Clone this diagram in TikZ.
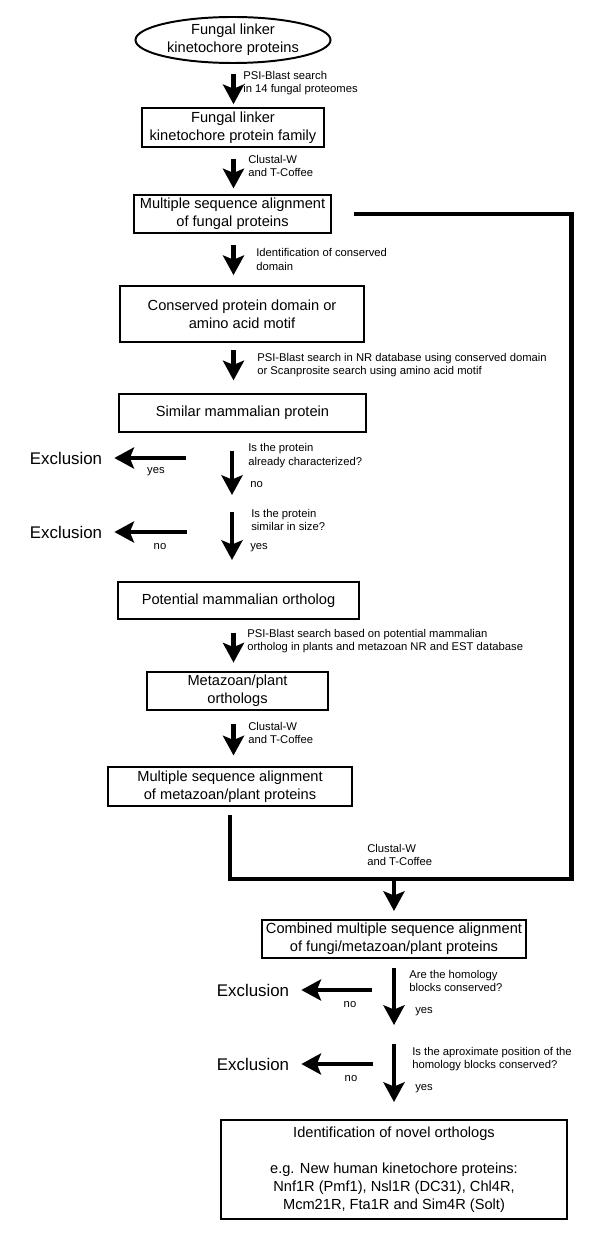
\documentclass[tikz,border=0pt]{standalone}
\usepackage{fontspec}
\setmainfont{Liberation Sans}
\usetikzlibrary{shapes,arrows.meta,calc,positioning}
\tikzset{
    -{Stealth[length=14pt,width=15pt,inset=3pt]},
    flow/.style={line width=3.1pt},
    pipe/.style={-,line width=3.4pt},
    box/.style={rectangle, draw, line width=1.4pt, inner sep=1pt, align=center,
        font=\fontsize{10.4}{12.8}\selectfont},
    oval/.style={ellipse, draw, line width=1.4pt, inner sep=0pt, align=center,
        font=\fontsize{10.4}{12.8}\selectfont},
    lbl/.style={anchor=west, inner sep=0pt, align=left, font=\fontsize{8}{9.6}\selectfont},
    ans/.style={inner sep=0pt, font=\fontsize{8}{9.6}\selectfont},
    excl/.style={inner sep=0pt, font=\fontsize{12}{14}\selectfont}
}

\begin{document}
\begin{tikzpicture}[x=0.025cm,y=-0.025cm]
    \useasboundingbox (0,0) rectangle (600,1240);
    \coordinate (c) at (233.5,0);

    % main column
    \node[oval, minimum width=4.875cm, minimum height=1.15cm] (1) at (233,40) {Fungal linker\\kinetochore proteins};
    \node[box, minimum width=4.55cm, minimum height=0.975cm] (2) at (233,127.5) {Fungal linker\\kinetochore protein family};
    \node[box, minimum width=4.925cm, minimum height=0.95cm] (3) at (232.5,214) {Multiple sequence alignment\\of fungal proteins};
    \node[box, minimum width=6.1cm, minimum height=1.4cm] (4) at (242,314) {Conserved protein domain or\\amino acid motif};
    \node[box, minimum width=6.15cm, minimum height=0.95cm] (5) at (242.5,413) {Similar mammalian protein};
    \node[box, minimum width=6.025cm, minimum height=0.925cm] (6) at (238.5,600.5) {Potential mammalian ortholog};
    \node[box, minimum width=4.525cm, minimum height=0.95cm] (7) at (237.5,691) {Metazoan/plant\\orthologs};
    \node[box, minimum width=6.1cm, minimum height=0.975cm] (8) at (230,786.5) {Multiple sequence alignment\\of metazoan/plant proteins};
    \node[box, minimum width=6.6cm, minimum height=0.95cm] (9) at (394,939) {Combined multiple sequence alignment\\of fungi/metazoan/plant proteins};
    \node[box, minimum width=8.65cm, minimum height=2.475cm] (10) at (394,1169.5) {Identification of novel orthologs\\[12.8pt]e.g. New human kinetochore proteins:\\Nnf1R (Pmf1), Nsl1R (DC31), Chl4R,\\Mcm21R, Fta1R and Sim4R (Solt)};

    % step labels
    \node[lbl] (l1) at (243,83) {PSI-Blast search\\in 14 fungal proteomes};
    \node[lbl] (l2) at (248,166) {Clustal-W\\and T-Coffee};
    \node[lbl] (l3) at (256,259.5) {Identification of conserved\\domain};
    \node[lbl] (l4) at (257,365) {PSI-Blast search in NR database using conserved domain\\or Scanprosite search using amino acid motif};
    \node[lbl] (l5) at (247,641) {PSI-Blast search based on potential mammalian\\ortholog in plants and metazoan NR and EST database};
    \node[lbl] (l6) at (248,733) {Clustal-W\\and T-Coffee};
    \node[lbl] (l7) at (367,855) {Clustal-W\\and T-Coffee};

    % checks
    \node[lbl] (q1) at (248,455.5) {Is the protein\\already characterized?};
    \node[lbl] (q2) at (251,520) {Is the protein\\similar in size?};
    \node[lbl] (q3) at (409,981) {Are the homology\\blocks conserved?};
    \node[lbl] (q4) at (412,1059) {Is the aproximate position of the\\homology blocks conserved?};
    \node[lbl] (a1) at (250,485) {no};
    \node[lbl] (a2) at (250,548) {yes};
    \node[lbl] (a3) at (415,1012) {yes};
    \node[lbl] (a4) at (415,1089) {yes};
    \node[ans] (b1) at (156,472) {yes};
    \node[ans] (b2) at (160,547) {no};
    \node[ans] (b3) at (350,1005) {no};
    \node[ans] (b4) at (351,1079) {no};

    \node[excl] (x1) at (66,458) {Exclusion};
    \node[excl] (x2) at (66,532) {Exclusion};
    \node[excl] (x3) at (253,990) {Exclusion};
    \node[excl] (x4) at (253,1064) {Exclusion};

    \coordinate (d1) at (232,451);
    \coordinate (e1) at (232,495);
    \coordinate (d2) at (232,512);
    \coordinate (e2) at (232,560);
    \coordinate (d3) at (394,968);
    \coordinate (e3) at (394,1025);
    \coordinate (d4) at (394,1044);
    \coordinate (e4) at (394,1102);
    \coordinate (s1) at (186,458);
    \coordinate (s2) at (187,532);
    \coordinate (s3) at (372,990);
    \coordinate (s4) at (373,1064);
    \coordinate (bend) at (571.5,879);
    \coordinate (j) at (394,879);

    % arrows
    \path[flow] (1.south -| c) edge[shorten <=7pt, shorten >=2pt] (2.north -| c);
    \path[flow] (2.south -| c) edge[shorten <=7.5pt, shorten >=4pt] (3.north -| c);
    \path[flow] (3.south -| c) edge[shorten <=7.5pt, shorten >=7pt] (4.north -| c);
    \path[flow] (4.south -| c) edge[shorten <=5pt, shorten >=9pt] (5.north -| c);
    \path[flow] (6.south -| c) edge[shorten <=9pt, shorten >=6pt] (7.north -| c);
    \path[flow] (7.south -| c) edge[shorten <=9.5pt, shorten >=7.5pt] (8.north -| c);
    \path[flow] (d1) edge (e1);
    \path[flow] (d2) edge (e2);
    \path[flow] (d3) edge (e3);
    \path[flow] (d4) edge (e4);
    \path[flow] (s1) edge[shorten >=8.5pt] (x1);
    \path[flow] (s2) edge[shorten >=8.5pt] (x2);
    \path[flow] (s3) edge[shorten >=8.5pt] (x3);
    \path[flow] (s4) edge[shorten >=8.5pt] (x4);

    \draw[pipe] ($(3.east)+(22,0)$) -| (bend) -| ($(8.south)+(0,8)$);
    \path[flow] (j) edge[shorten >=5.7pt] (9);
\end{tikzpicture}
\end{document}
